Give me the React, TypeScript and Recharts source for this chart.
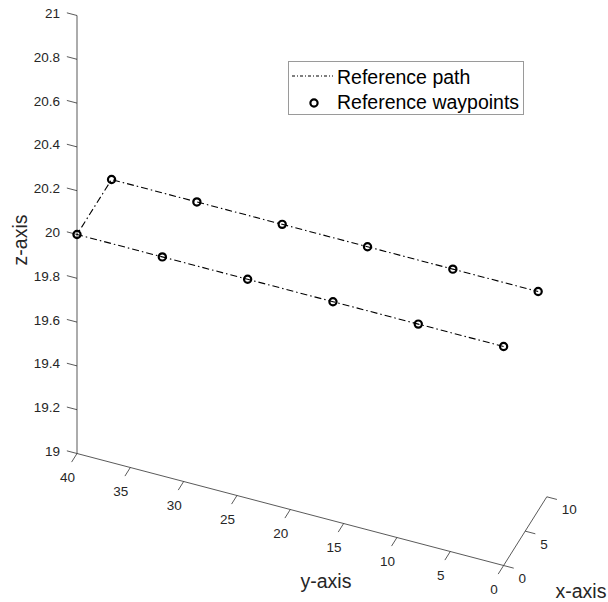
import { ComposedChart, Scatter, XAxis, YAxis, ReferenceLine, Legend } from "recharts";

const W = 608;
const H = 602;
const FONT = '"Liberation Sans", Arial, Helvetica, sans-serif';

// waypoints in path order (x, y, z)
const wpX = [0, 0, 0, 0, 0, 0, 8, 8, 8, 8, 8, 8];
const wpY = [0, 8, 16, 24, 32, 40, 40, 32, 24, 16, 8, 0];
const wpZ = [20, 20, 20, 20, 20, 20, 20, 20, 20, 20, 20, 20];

// axis limits and ticks
const xLim = [0, 10];
const yLim = [0, 40];
const zLim = [19, 21];
const xTicks = [0, 5, 10];
const yTicks = [0, 5, 10, 15, 20, 25, 30, 35, 40];
const zTicks = [19, 19.2, 19.4, 19.6, 19.8, 20, 20.2, 20.4, 20.6, 20.8, 21];

// orthographic view: screen position of (0, 40, 19) and per-unit axis directions
const O = [77, 453.5];
const DX = [4.32, -6.87];
const DY = [-10.665, -2.8];
const DZ = [0, -219];

function project(x: number, y: number, z: number) {
  const yy = y - yLim[1];
  const zz = z - zLim[0];
  return {
    px: O[0] + x * DX[0] + yy * DY[0] + zz * DZ[0],
    py: O[1] + x * DX[1] + yy * DY[1] + zz * DZ[1],
  };
}

const fmt = (v: number) => String(Number(v.toFixed(1)));

const pathData = wpX.map((x, i) => project(x, wpY[i], wpZ[i]));

type Seg = [{ x: number; y: number }, { x: number; y: number }];
const seg = (a: { px: number; py: number }, b: { px: number; py: number }): Seg => [
  { x: a.px, y: a.py },
  { x: b.px, y: b.py },
];

const axisSegs: Seg[] = [
  seg(project(0, yLim[1], zLim[0]), project(0, yLim[1], zLim[1])),
  seg(project(0, yLim[1], zLim[0]), project(0, yLim[0], zLim[0])),
  seg(project(xLim[0], 0, zLim[0]), project(xLim[1], 0, zLim[0])),
];

const tickSegs: Seg[] = [
  ...zTicks.map((z) => seg(project(0, yLim[1], z), project(0, yLim[1] + 0.95, z))),
  ...yTicks.map((y) => seg(project(0, y, zLim[0]), project(-1.25, y, zLim[0]))),
  ...xTicks.map((x) => seg(project(x, 0, zLim[0]), project(x, -0.95, zLim[0]))),
];

type TextPt = { px: number; py: number; text: string; anchor: string; size: number; rotate?: number };

const tickText: TextPt[] = [
  ...zTicks.map((z) => {
    const p = project(0, yLim[1], z);
    return { px: p.px - 17, py: p.py - 2, text: fmt(z), anchor: "end", size: 13.5 };
  }),
  ...yTicks.map((y) => {
    const p = project(0, y, zLim[0]);
    return { px: p.px - 9.5, py: p.py + 23.5, text: fmt(y), anchor: "middle", size: 13.5 };
  }),
  ...xTicks.map((x) => {
    const p = project(x, 0, zLim[0]);
    return { px: p.px + 15, py: p.py + 13, text: fmt(x), anchor: "start", size: 13.5 };
  }),
];

const axisTitles: TextPt[] = [
  { px: 20, py: 240, text: "z-axis", anchor: "middle", size: 19.5, rotate: -90 },
  { px: 326, py: 581, text: "y-axis", anchor: "middle", size: 19.5 },
  { px: 581, py: 591, text: "x-axis", anchor: "middle", size: 19.5 },
];

const AXIS_COLOR = "#262626";
const DASH = "7 3 1.5 3";

function TextShape(props: any) {
  const d: TextPt = props.payload;
  return (
    <text
      x={props.cx}
      y={props.cy}
      textAnchor={d.anchor as any}
      dominantBaseline="central"
      fontFamily={FONT}
      fontSize={d.size}
      fill={AXIS_COLOR}
      transform={d.rotate ? `rotate(${d.rotate} ${props.cx} ${props.cy})` : undefined}
    >
      {d.text}
    </text>
  );
}

function Ring(props: any) {
  return <circle cx={props.cx} cy={props.cy} r={3.6} fill="none" stroke="#000" strokeWidth={2.2} />;
}

function LegendBox() {
  return (
    <div
      style={{
        width: 236,
        height: 54,
        border: "1px solid #9a9a9a",
        background: "#fff",
        fontFamily: FONT,
        fontSize: 19.5,
        color: "#000",
        boxSizing: "border-box",
        position: "relative",
      }}
    >
      <svg width={236} height={54} style={{ position: "absolute", left: 0, top: 0 }}>
        <line x1={3} y1={14} x2={44} y2={14} stroke="#000" strokeWidth={1.1} strokeDasharray="3 2 1 2" />
        <circle cx={25} cy={41} r={3.6} fill="none" stroke="#000" strokeWidth={2.2} />
        <text x={48} y={15} dominantBaseline="central" fontFamily={FONT} fontSize={19.5}>
          Reference path
        </text>
        <text x={48} y={40} dominantBaseline="central" fontFamily={FONT} fontSize={19.5}>
          Reference waypoints
        </text>
      </svg>
    </div>
  );
}

export default function App() {
  return (
    <div style={{ position: "absolute", left: 0, top: 0, width: W, height: H, background: "#fff" }}>
      <ComposedChart width={W} height={H} margin={{ top: 0, right: 0, bottom: 0, left: 0 }}>
        <XAxis type="number" dataKey="px" domain={[0, W]} hide allowDataOverflow />
        <YAxis type="number" dataKey="py" domain={[0, H]} reversed hide allowDataOverflow />

        {axisSegs.map((s, i) => (
          <ReferenceLine key={`a${i}`} segment={s} stroke={AXIS_COLOR} strokeWidth={0.9} strokeOpacity={0.85} />
        ))}
        {tickSegs.map((s, i) => (
          <ReferenceLine key={`t${i}`} segment={s} stroke={AXIS_COLOR} strokeWidth={0.9} strokeOpacity={0.85} />
        ))}

        <Scatter data={tickText} shape={TextShape} isAnimationActive={false} legendType="none" />
        <Scatter data={axisTitles} shape={TextShape} isAnimationActive={false} legendType="none" />

        <Scatter
          name="Reference path"
          data={pathData}
          line={{ stroke: "#000", strokeWidth: 1.1, strokeDasharray: DASH }}
          shape={() => <g />}
          isAnimationActive={false}
        />
        <Scatter name="Reference waypoints" data={pathData} shape={Ring} isAnimationActive={false} />

        <Legend
          layout="vertical"
          align="center"
          verticalAlign="middle"
          wrapperStyle={{ left: 288, top: 61, width: 236 }}
          content={() => <LegendBox />}
        />
      </ComposedChart>
    </div>
  );
}
